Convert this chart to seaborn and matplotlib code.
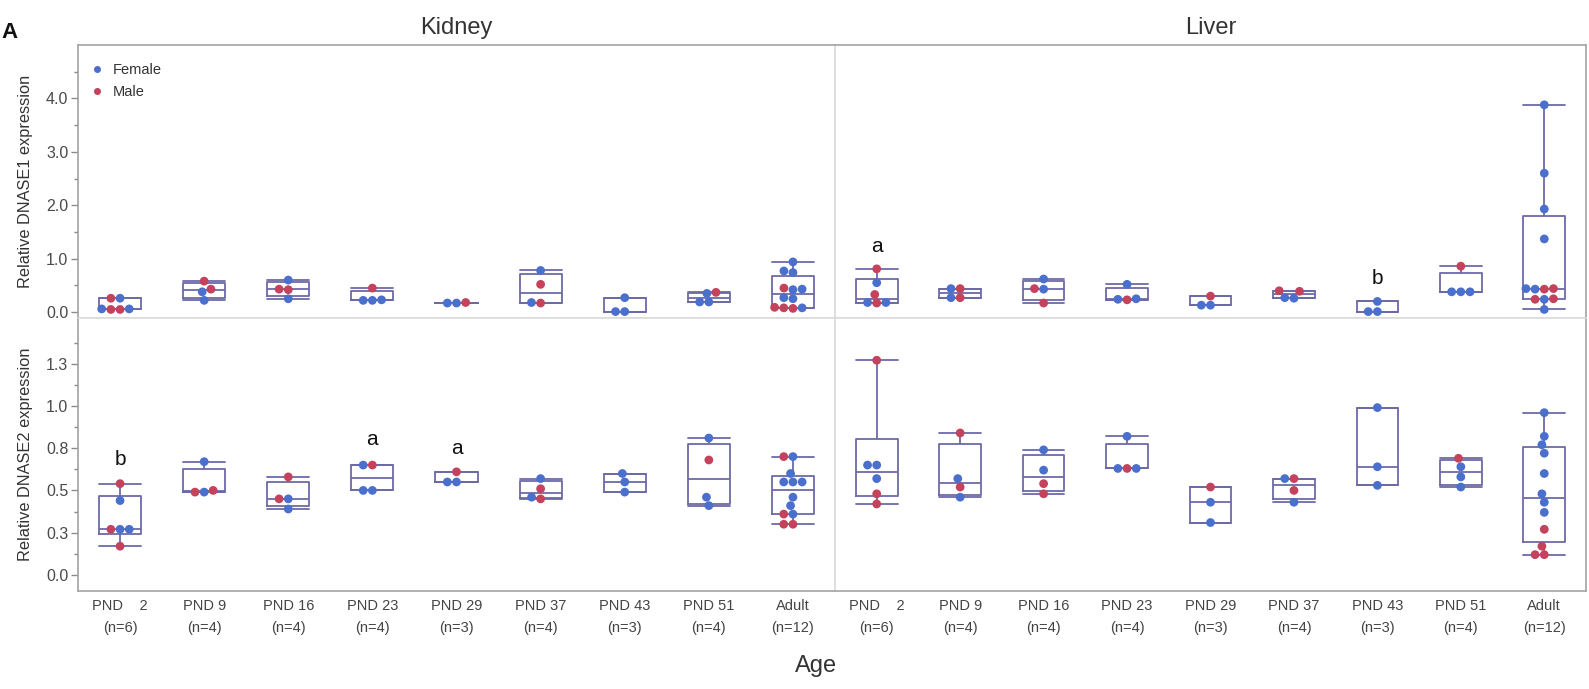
import numpy as np
import pandas as pd
import matplotlib
matplotlib.use("Agg")
import matplotlib as mpl
import matplotlib.pyplot as plt
import matplotlib.cbook
import seaborn as sns
from matplotlib.ticker import FixedLocator

# ---------------- data ----------------
ages = ["PND 2", "PND 9", "PND 16", "PND 23", "PND 29", "PND 37", "PND 43", "PND 51", "Adult"]
age_labels = ["PND    2\n(n=6)", "PND 9\n(n=4)", "PND 16\n(n=4)", "PND 23\n(n=4)",
              "PND 29\n(n=3)", "PND 37\n(n=4)", "PND 43\n(n=3)", "PND 51\n(n=4)",
              "Adult\n(n=12)"]
sex_codes = {"F": "Female", "M": "Male"}

kidney_dnase1 = [
    [0.26, 0.26, 0.06, 0.05, 0.06, 0.05],
    [0.58, 0.43, 0.38, 0.22],
    [0.60, 0.43, 0.42, 0.25],
    [0.45, 0.23, 0.22, 0.22],
    [0.18, 0.17, 0.17],
    [0.78, 0.52, 0.18, 0.17],
    [0.27, 0.01, 0.01],
    [0.37, 0.35, 0.19, 0.19],
    [0.94, 0.77, 0.74, 0.45, 0.43, 0.42, 0.27, 0.25, 0.09, 0.08, 0.08, 0.07],
]
kidney_dnase1_sex = ["FMFMFM", "MMFF", "FMMF", "MFFF", "MFF", "FMFM", "FFF", "MFFF",
                     "FFFMFFFFMMFM"]

liver_dnase1 = [
    [0.81, 0.55, 0.33, 0.18, 0.18, 0.17],
    [0.44, 0.44, 0.27, 0.27],
    [0.62, 0.44, 0.43, 0.17],
    [0.52, 0.25, 0.24, 0.23],
    [0.30, 0.13, 0.13],
    [0.40, 0.39, 0.27, 0.26],
    [0.20, 0.01, 0.01],
    [0.86, 0.38, 0.38, 0.38],
    [3.88, 2.60, 1.93, 1.37, 0.44, 0.44, 0.43, 0.43, 0.25, 0.24, 0.24, 0.05],
]
liver_dnase1_sex = ["MFMFFM", "FMFM", "FMFM", "FFFM", "MFF", "MMFF", "FFF", "MFFF",
                    "FFFFMFMFMFMF"]

kidney_dnase2 = [
    [0.54, 0.44, 0.27, 0.27, 0.27, 0.17],
    [0.67, 0.50, 0.49, 0.49],
    [0.58, 0.45, 0.45, 0.39],
    [0.65, 0.65, 0.50, 0.50],
    [0.61, 0.55, 0.55],
    [0.57, 0.51, 0.46, 0.45],
    [0.60, 0.55, 0.49],
    [0.81, 0.68, 0.46, 0.41],
    [0.70, 0.70, 0.60, 0.55, 0.55, 0.55, 0.46, 0.41, 0.36, 0.36, 0.30, 0.30],
]
kidney_dnase2_sex = ["MFFFMM", "FMMF", "MFMF", "FMFF", "MFF", "FMFM", "FFF", "FMFF",
                     "MFFFFFFFFMMM"]

liver_dnase2 = [
    [1.27, 0.65, 0.65, 0.57, 0.48, 0.42],
    [0.84, 0.57, 0.52, 0.46],
    [0.74, 0.62, 0.54, 0.48],
    [0.82, 0.63, 0.63, 0.63],
    [0.52, 0.43, 0.31],
    [0.57, 0.57, 0.50, 0.43],
    [0.99, 0.64, 0.53],
    [0.69, 0.64, 0.58, 0.52],
    [0.96, 0.82, 0.77, 0.72, 0.60, 0.48, 0.43, 0.37, 0.27, 0.17, 0.12, 0.12],
]
liver_dnase2_sex = ["MFFFMM", "MFMF", "FFMM", "FMFF", "MFF", "FMMF", "FFF", "MFFF",
                    "FFFFFFFFMMMM"]

# significance letters: (letter, age index, y value)
kidney_dnase2_letters = [("b", 0, 0.68), ("a", 3, 0.80), ("a", 4, 0.75)]
liver_dnase1_letters = [("a", 0, 1.22), ("b", 6, 0.62)]

top_ticks = [0.0, 1.0, 2.0, 3.0, 4.0]
top_ticklabels = ["0.0", "1.0", "2.0", "3.0", "4.0"]
bottom_ticks = [0.0, 0.25, 0.5, 0.75, 1.0, 1.25]
bottom_ticklabels = ["0.0", "0.3", "0.5", "0.8", "1.0", "1.3"]

# ---------------- style ----------------
BLUE = "#4a6fcc"
RED = "#c4425c"
BOX = "#6c6aa6"
FRAME = "#a3a3a3"
DIVIDER = "#dadada"
TXT = "#3a3a3a"

sns.set_style("ticks")
plt.rcParams["font.family"] = ["Liberation Sans", "DejaVu Sans"]


# JMP-style quartiles ((n+1)p definition) and whiskers to the data extremes
_orig_stats = matplotlib.cbook.boxplot_stats


def jmp_boxplot_stats(X, whis=1.5, bootstrap=None, labels=None, autorange=False):
    stats = _orig_stats(X, whis=whis, bootstrap=bootstrap, labels=labels,
                        autorange=autorange)
    for st, x in zip(stats, X):
        x = np.asarray(x, dtype=float)
        q1, med, q3 = np.percentile(x, [25, 50, 75], method="weibull")
        st["q1"], st["med"], st["q3"] = q1, med, q3
        st["whislo"], st["whishi"] = x.min(), x.max()
        st["fliers"] = np.array([])
    return stats


mpl.cbook.boxplot_stats = jmp_boxplot_stats


def to_frame(vals, sexes):
    rows = []
    for age, vs, ss in zip(ages, vals, sexes):
        for v, s in zip(vs, ss):
            rows.append((age, sex_codes[s], v))
    return pd.DataFrame(rows, columns=["Age", "Sex", "Value"])


W, H = 1589, 689
fig = plt.figure(figsize=(W / 100, H / 100), dpi=100)

x_l, x_m, x_r = 78, 835, 1586
y_t, y_m, y_b = 45, 318, 591


def rect(x0, x1, y0, y1):
    return [x0 / W, 1 - y1 / H, (x1 - x0) / W, (y1 - y0) / H]


ax_k1 = fig.add_axes(rect(x_l, x_m, y_t, y_m))
ax_l1 = fig.add_axes(rect(x_m, x_r, y_t, y_m))
ax_k2 = fig.add_axes(rect(x_l, x_m, y_m, y_b))
ax_l2 = fig.add_axes(rect(x_m, x_r, y_m, y_b))

panels = [
    (ax_k1, kidney_dnase1, kidney_dnase1_sex, "top", "left", True),
    (ax_l1, liver_dnase1, liver_dnase1_sex, "top", "right", False),
    (ax_k2, kidney_dnase2, kidney_dnase2_sex, "bottom", "left", False),
    (ax_l2, liver_dnase2, liver_dnase2_sex, "bottom", "right", False),
]

for ax, vals, sexes, row, col, show_legend in panels:
    df = to_frame(vals, sexes)
    sns.boxplot(data=df, x="Age", y="Value", order=ages, color=BOX, fill=False,
                width=0.5, whis=(0, 100), showfliers=False, linewidth=1.3,
                saturation=1, capwidths=0.5, ax=ax)
    sns.swarmplot(data=df, x="Age", y="Value", hue="Sex",
                  hue_order=["Female", "Male"], palette=[BLUE, RED], order=ages,
                  size=6.3, linewidth=0, ax=ax, legend=show_legend, zorder=3)
    ax.set_xlim(-0.5, 8.5)
    ax.set_xlabel("")
    ax.set_ylabel("")
    if row == "top":
        ax.set_ylim(-0.11, 5.0)
        ax.yaxis.set_major_locator(FixedLocator(top_ticks))
        ax.yaxis.set_minor_locator(FixedLocator([0.5, 1.5, 2.5, 3.5, 4.5]))
        ax.set_yticklabels(top_ticklabels)
        ax.tick_params(axis="x", labelbottom=False, length=0)
    else:
        ax.set_ylim(-0.095, 1.52)
        ax.yaxis.set_major_locator(FixedLocator(bottom_ticks))
        ax.yaxis.set_minor_locator(FixedLocator([0.125, 0.375, 0.625, 0.875, 1.125, 1.375]))
        ax.set_yticklabels(bottom_ticklabels)
        ax.set_xticks(range(len(ages)))
        ax.set_xticklabels(age_labels, linespacing=1.7)
        ax.tick_params(axis="x", length=0, pad=6, labelsize=10.5, labelcolor="#444444")
    if col == "left":
        ax.tick_params(axis="y", which="major", length=5, width=1, color="#8a8a8a",
                       labelsize=11.5, labelcolor="#4a4a4a", pad=2)
        ax.tick_params(axis="y", which="minor", length=3, width=1, color="#8a8a8a")
    else:
        ax.tick_params(axis="y", which="both", left=False, labelleft=False)

    for side in ["left", "right", "top", "bottom"]:
        ax.spines[side].set_visible(True)
        ax.spines[side].set_linewidth(1.2)
    ax.spines["top"].set_color(FRAME if row == "top" else DIVIDER)
    ax.spines["bottom"].set_color(FRAME if row == "bottom" else DIVIDER)
    ax.spines["left"].set_color(FRAME if col == "left" else DIVIDER)
    ax.spines["right"].set_color(FRAME if col == "right" else DIVIDER)

# legend
leg = ax_k1.legend(loc="upper left", bbox_to_anchor=(0.008, 0.955), frameon=False,
                   fontsize=10.5, handlelength=1.0, handletextpad=0.55,
                   labelspacing=0.55, borderpad=0.4, borderaxespad=0, markerscale=0.8)
for t in leg.get_texts():
    t.set_color("#333333")

# significance letters
for letter, i, y in kidney_dnase2_letters:
    ax_k2.text(i, y, letter, ha="center", va="center", fontsize=15, color="#111111")
for letter, i, y in liver_dnase1_letters:
    ax_l1.text(i, y, letter, ha="center", va="center", fontsize=15, color="#111111")

# titles and labels
ax_k1.set_title("Kidney", fontsize=17, color="#333333", pad=8)
ax_l1.set_title("Liver", fontsize=17, color="#333333", pad=8)
ax_k1.set_ylabel("Relative DNASE1 expression", fontsize=11.8, color="#333333")
ax_k2.set_ylabel("Relative DNASE2 expression", fontsize=11.8, color="#333333")
ax_k1.yaxis.set_label_coords(-45 / 757, 0.5)
ax_k2.yaxis.set_label_coords(-45 / 757, 0.5)
fig.text(816 / W, 1 - 666 / H, "Age", ha="center", va="center", fontsize=17,
         color="#333333")
fig.text(1 / W, 1 - 32 / H, "A", ha="left", va="center", fontsize=16,
         fontweight="bold", color="#111111")

fig.savefig("out.png", dpi=100)
